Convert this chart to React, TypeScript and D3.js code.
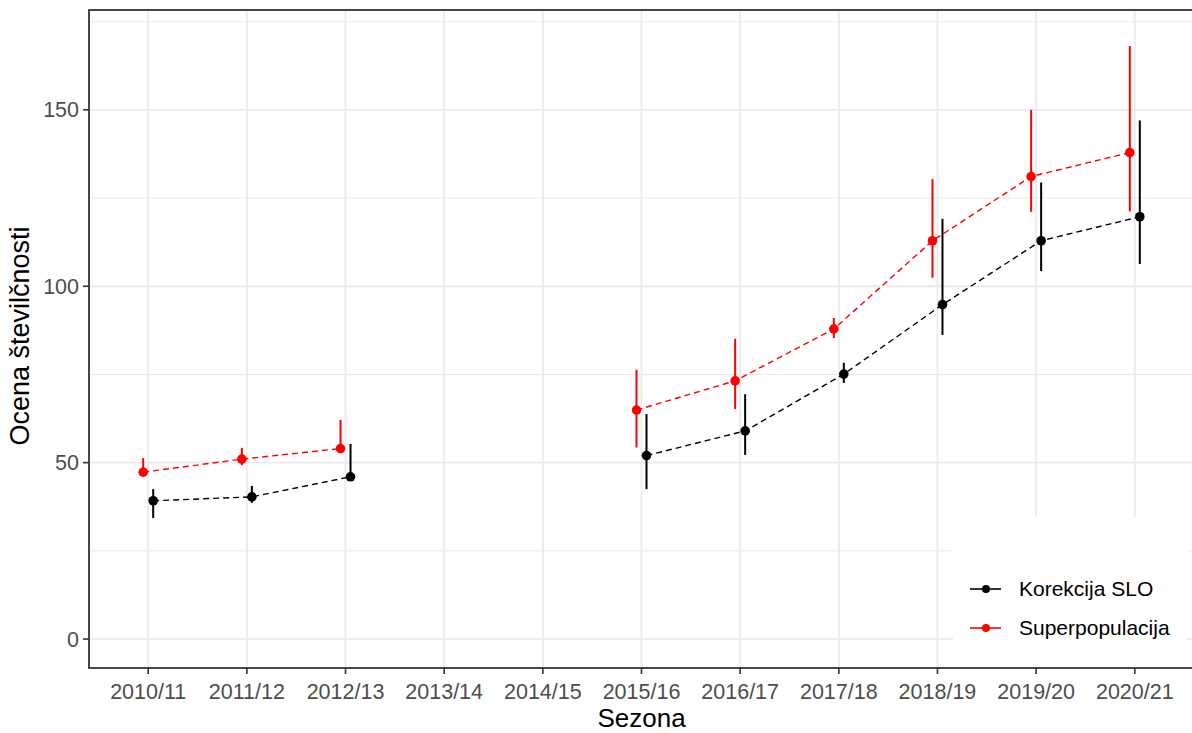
import * as d3 from 'd3';

const seasons = ['2010/11', '2011/12', '2012/13', '2013/14', '2014/15', '2015/16', '2016/17', '2017/18', '2018/19', '2019/20', '2020/21'];
const korekcija = [39.2, 40.3, 46.0, null, null, 52.0, 59.0, 75.1, 94.8, 112.9, 119.7];
const korekcijaLo = [34.3, 38.6, 45.5, null, null, 42.5, 52.2, 72.6, 86.2, 104.3, 106.3];
const korekcijaHi = [42.5, 43.4, 55.3, null, null, 63.8, 69.4, 78.3, 119.1, 129.4, 147.0];
const superpop = [47.3, 51.0, 54.0, null, null, 64.9, 73.2, 87.9, 112.9, 131.1, 137.9];
const superpopLo = [46.5, 49.3, 53.5, null, null, 54.3, 65.2, 85.3, 102.4, 121.1, 121.2];
const superpopHi = [51.3, 54.2, 62.1, null, null, 76.3, 85.1, 91.0, 130.4, 150.0, 168.1];
const yTicks = [0, 50, 100, 150];
const yMinor = [25, 75, 125, 175];

const W = 1192;
const H = 733;
const panel = { left: 89, right: 1194, top: 10, bottom: 668 };
const font = '"Liberation Sans", Arial, sans-serif';

type Series = { name: string; color: string; vals: (number | null)[]; lo: (number | null)[]; hi: (number | null)[]; dx: number };

const series: Series[] = [
  { name: 'Korekcija SLO', color: '#000000', vals: korekcija, lo: korekcijaLo, hi: korekcijaHi, dx: 5 },
  { name: 'Superpopulacija', color: '#ff0000', vals: superpop, lo: superpopLo, hi: superpopHi, dx: -5 },
];

const App = () => {
  const x = d3.scalePoint<string>().domain(seasons).range([panel.left, panel.right]).padding(0.6);
  const y = d3.scaleLinear().domain([-8.2, 178.3]).range([panel.bottom, panel.top]);

  const line = (s: Series) =>
    d3
      .line<number | null>()
      .defined(d => d != null)
      .x((_, i) => x(seasons[i])! + s.dx)
      .y(d => y(d as number))(s.vals);

  return (
    <svg width={W} height={H} style={{ position: 'absolute', left: 0, top: 0, background: '#fff' }} fontFamily={font}>
      <defs>
        <clipPath id="panel">
          <rect x={panel.left} y={panel.top} width={panel.right - panel.left} height={panel.bottom - panel.top} />
        </clipPath>
      </defs>
      <g clipPath="url(#panel)">
        {yMinor.map(t => (
          <line key={'mi' + t} x1={panel.left} x2={panel.right} y1={y(t)} y2={y(t)} stroke="#ebebeb" strokeWidth={1} />
        ))}
        {yTicks.map(t => (
          <line key={'ma' + t} x1={panel.left} x2={panel.right} y1={y(t)} y2={y(t)} stroke="#ebebeb" strokeWidth={1.8} />
        ))}
        {seasons.map(s => (
          <line key={'v' + s} x1={x(s)} x2={x(s)} y1={panel.top} y2={panel.bottom} stroke="#ebebeb" strokeWidth={1.8} />
        ))}
        {series.map(s => (
          <path key={'l' + s.name} d={line(s) ?? ''} fill="none" stroke={s.color} strokeWidth={1.4} strokeDasharray="6,4" />
        ))}
        {series.map(s =>
          s.vals.map((v, i) =>
            v == null ? null : (
              <g key={s.name + i}>
                <line
                  x1={x(seasons[i])! + s.dx}
                  x2={x(seasons[i])! + s.dx}
                  y1={y(s.lo[i] as number)}
                  y2={y(s.hi[i] as number)}
                  stroke={s.color}
                  strokeWidth={2}
                />
                <circle cx={x(seasons[i])! + s.dx} cy={y(v)} r={4.8} fill={s.color} />
              </g>
            )
          )
        )}
        {/* legend inside panel */}
        <rect x={953} y={517} width={234} height={160} fill="#fff" />
        {series.map((s, i) => (
          <g key={'lg' + s.name} transform={`translate(0, ${589 + i * 39})`}>
            <line x1={970} x2={1001} y1={0} y2={0} stroke={s.color} strokeWidth={1.6} />
            <circle cx={986} cy={0} r={4} fill={s.color} />
            <text x={1019} y={0} dy="0.35em" fontSize={21} fill="#000">
              {s.name}
            </text>
          </g>
        ))}
      </g>
      <rect
        x={panel.left}
        y={panel.top}
        width={panel.right - panel.left}
        height={panel.bottom - panel.top}
        fill="none"
        stroke="#333333"
        strokeWidth={1.8}
      />
      {yTicks.map(t => (
        <g key={'yt' + t}>
          <line x1={panel.left - 6} x2={panel.left} y1={y(t)} y2={y(t)} stroke="#333333" strokeWidth={1.6} />
          <text x={panel.left - 10} y={y(t)} dy="0.35em" textAnchor="end" fontSize={21.5} fill="#4d4d4d">
            {t}
          </text>
        </g>
      ))}
      {seasons.map(s => (
        <g key={'xt' + s}>
          <line x1={x(s)} x2={x(s)} y1={panel.bottom} y2={panel.bottom + 6} stroke="#333333" strokeWidth={1.6} />
          <text x={x(s)} y={699} textAnchor="middle" fontSize={21.5} fill="#4d4d4d">
            {s}
          </text>
        </g>
      ))}
      <text x={(panel.left + panel.right) / 2} y={727} textAnchor="middle" fontSize={26} fill="#000">
        Sezona
      </text>
      <text
        transform={`translate(29, ${(panel.top + panel.bottom) / 2 - 3}) rotate(-90)`}
        textAnchor="middle"
        fontSize={27}
        fill="#000"
      >
        Ocena številčnosti
      </text>
    </svg>
  );
};

export default App;
